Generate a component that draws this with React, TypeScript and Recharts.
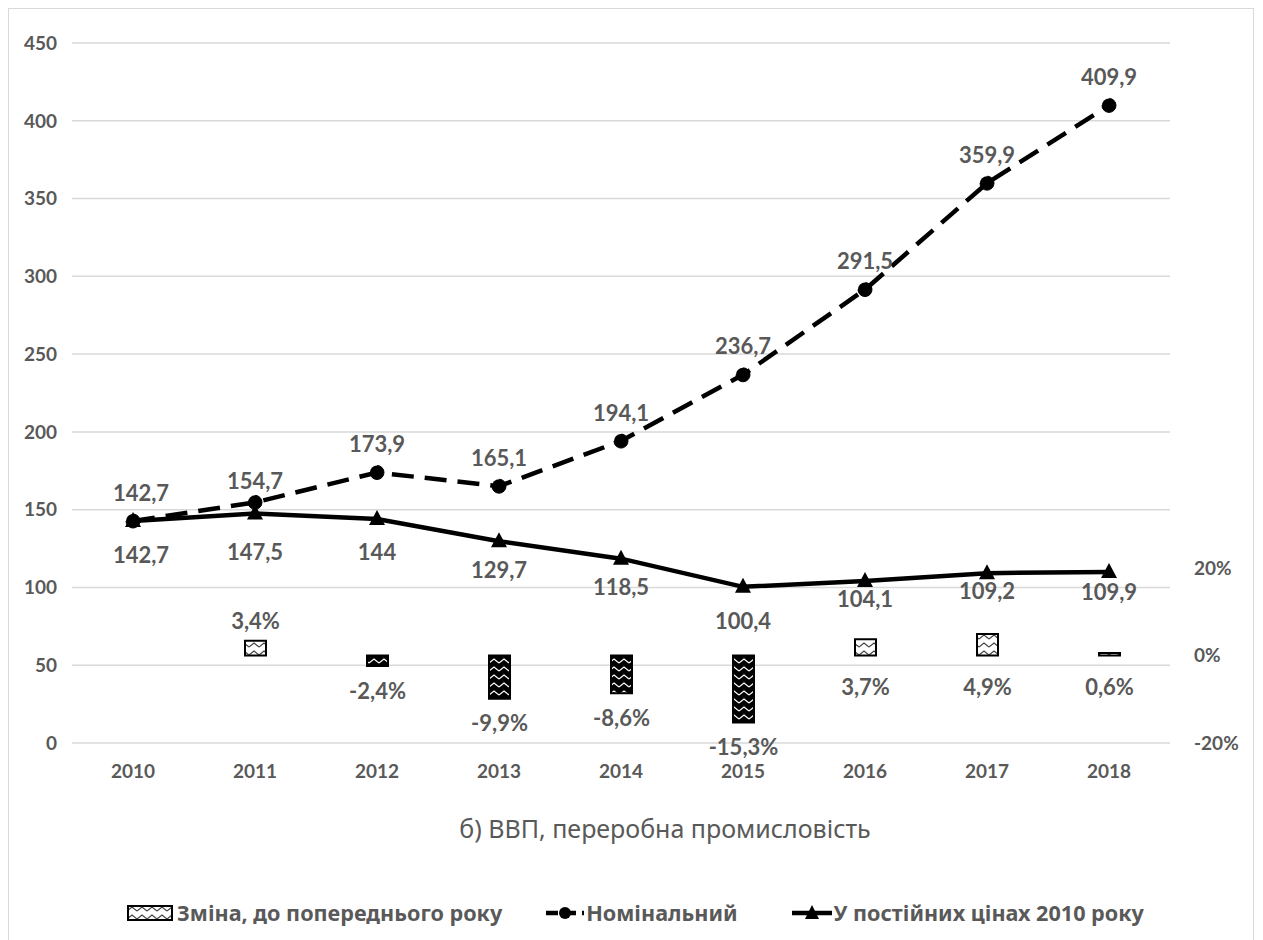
import { Bar, Cell, CartesianGrid, ComposedChart, LabelList, Line, XAxis, YAxis } from "recharts";

const years = ["2010", "2011", "2012", "2013", "2014", "2015", "2016", "2017", "2018"];
const nominal = [142.7, 154.7, 173.9, 165.1, 194.1, 236.7, 291.5, 359.9, 409.9];
const realPrices = [142.7, 147.5, 144, 129.7, 118.5, 100.4, 104.1, 109.2, 109.9];
// change to previous year, %
const change: (number | null)[] = [null, 3.4, -2.4, -9.9, -8.6, -15.3, 3.7, 4.9, 0.6];

const leftTicks = [0, 50, 100, 150, 200, 250, 300, 350, 400, 450];
const rightTicks = [-20, 0, 20];

// label layout tweaks
const realLabelGap = [33, 38, 32, 28, 28, 34, 17, 17, 19];
const changeLabelAbove = ["2011"];

const chartData = years.map((year, i) => ({
  year,
  nominal: nominal[i],
  real: realPrices[i],
  change: change[i]
}));

const TEXT = "#595959";
const FONT = "Lato, 'Noto Sans', sans-serif";
const CYR_FONT = "'Noto Sans', sans-serif";

const fmt = (v: number) => String(v).replace(".", ",");

const tickStyle = { fill: TEXT, fontSize: 19, fontWeight: 700, fontFamily: FONT };
const labelStyle = { fill: TEXT, fontSize: 22, fontWeight: 700, fontFamily: FONT };

const Triangle = ({ cx, cy }: any) => {
  if (cx == null || cy == null) return null;
  return <path d={`M${cx} ${cy - 9} L${cx + 8} ${cy + 6} L${cx - 8} ${cy + 6} Z`} fill="#000" />;
};

const NominalLabel = ({ x, y, value, index }: any) => (
  <text
    x={x + (index === 0 ? 8 : 0)}
    y={y - (index === 1 ? 22 : 29)}
    textAnchor="middle"
    dominantBaseline="central"
    style={labelStyle}
  >
    {fmt(value)}
  </text>
);

const RealLabel = ({ x, y, value, index }: any) => (
  <text
    x={x + (index === 0 ? 8 : 0)}
    y={y + realLabelGap[index]}
    textAnchor="middle"
    dominantBaseline="central"
    style={labelStyle}
  >
    {fmt(value)}
  </text>
);

const ChangeLabel = ({ x, y, width, height, value }: any) => {
  if (value == null) return null;
  const year = years[change.indexOf(value)];
  const top = Math.min(y, y + height);
  const bottom = Math.max(y, y + height);
  let ly: number;
  if (value < 0) ly = bottom + 24;
  else if (changeLabelAbove.includes(year)) ly = top - 20;
  else ly = bottom + 31;
  return (
    <text x={x + width / 2} y={ly} textAnchor="middle" dominantBaseline="central" style={labelStyle}>
      {fmt(value)}%
    </text>
  );
};

const legendText = { color: TEXT, fontSize: 21.6, fontWeight: 700, fontFamily: CYR_FONT };

export default function App() {
  return (
    <div
      style={{
        position: "relative",
        width: 1246,
        height: 940,
        border: "1px solid #d9d9d9",
        boxSizing: "border-box",
        background: "#fff"
      }}
    >
      <ComposedChart
        width={1244}
        height={800}
        data={chartData}
        margin={{ top: 34, right: 13, bottom: 26, left: 13 }}
      >
        <defs>
          <pattern id="zigPos" width="10" height="8" patternUnits="userSpaceOnUse">
            <rect width="10" height="8" fill="#fff" />
            <path d="M0 6 L5 2 L10 6" fill="none" stroke="#444" strokeWidth="1.2" />
          </pattern>
          <pattern id="zigNeg" width="10" height="8" patternUnits="userSpaceOnUse">
            <rect width="10" height="8" fill="#000" />
            <path d="M0 6 L5 2 L10 6" fill="none" stroke="#fff" strokeWidth="1.2" />
          </pattern>
        </defs>
        <CartesianGrid yAxisId="left" vertical={false} stroke="#d9d9d9" strokeWidth={1.5} />
        <XAxis
          dataKey="year"
          axisLine={false}
          tickLine={false}
          tickSize={0}
          tickMargin={22}
          height={40}
          tick={tickStyle}
        />
        <YAxis
          yAxisId="left"
          domain={[0, 450]}
          ticks={leftTicks}
          axisLine={false}
          tickLine={false}
          tickSize={0}
          tickMargin={15}
          width={50}
          tick={tickStyle}
        />
        <YAxis
          yAxisId="right"
          orientation="right"
          domain={[-20, 140]}
          ticks={rightTicks}
          axisLine={false}
          tickLine={false}
          tickSize={0}
          tickMargin={24}
          width={70}
          tick={tickStyle}
          tickFormatter={(v: number) => `${v}%`}
        />
        <Bar yAxisId="right" dataKey="change" barSize={21} stroke="#000" strokeWidth={2} isAnimationActive={false}>
          {chartData.map((d) => (
            <Cell key={d.year} fill={d.change != null && d.change < 0 ? "url(#zigNeg)" : "url(#zigPos)"} />
          ))}
          <LabelList dataKey="change" content={ChangeLabel} />
        </Bar>
        <Line
          yAxisId="left"
          dataKey="nominal"
          stroke="#000"
          strokeWidth={4.5}
          strokeDasharray="22 11"
          dot={{ r: 7, fill: "#000", stroke: "#000", strokeWidth: 1 }}
          isAnimationActive={false}
        >
          <LabelList dataKey="nominal" content={NominalLabel} />
        </Line>
        <Line
          yAxisId="left"
          dataKey="real"
          stroke="#000"
          strokeWidth={4.5}
          dot={<Triangle />}
          isAnimationActive={false}
        >
          <LabelList dataKey="real" content={RealLabel} />
        </Line>
      </ComposedChart>

      <div
        style={{
          position: "absolute",
          top: 803,
          left: 656,
          transform: "translateX(-50%)",
          whiteSpace: "nowrap",
          color: TEXT,
          fontSize: 25,
          fontFamily: CYR_FONT,
          lineHeight: "32px"
        }}
      >
        б) ВВП, переробна промисловість
      </div>

      <div
        style={{
          position: "absolute",
          top: 888,
          left: 118,
          display: "flex",
          alignItems: "center",
          whiteSpace: "nowrap",
          lineHeight: "32px"
        }}
      >
        <svg width={46} height={16} style={{ marginRight: 4 }}>
          <rect x={1} y={1} width={44} height={14} fill="url(#zigPos)" stroke="#000" strokeWidth={2} />
        </svg>
        <span style={legendText}>Зміна, до попереднього року</span>
        <svg width={38} height={16} style={{ marginLeft: 44, marginRight: 2 }}>
          <line x1={0} y1={8} x2={38} y2={8} stroke="#000" strokeWidth={4.5} strokeDasharray="12 6" />
          <circle cx={19} cy={8} r={6} fill="#000" />
        </svg>
        <span style={legendText}>Номінальний</span>
        <svg width={40} height={18} style={{ marginLeft: 54, marginRight: 2 }}>
          <line x1={0} y1={9} x2={40} y2={9} stroke="#000" strokeWidth={4.5} />
          <path d="M20 1 L27 15 L13 15 Z" fill="#000" />
        </svg>
        <span style={legendText}>У постійних цінах 2010 року</span>
      </div>
    </div>
  );
}
